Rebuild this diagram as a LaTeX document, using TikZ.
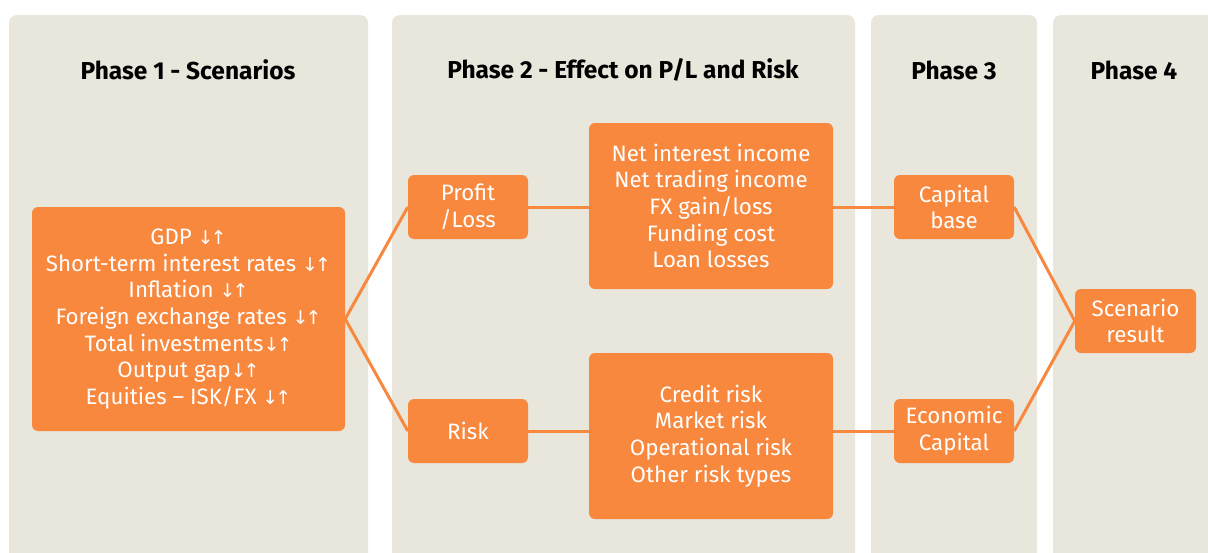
\documentclass[tikz,border=0pt]{standalone}
\usepackage{fontspec}
\setmainfont{Fira Sans}
\newfontfamily\arrfont{DejaVu Sans}
\newcommand\updn{{\arrfont\fontsize{19}{20}\selectfont ↓\kern-3pt↑}}
\definecolor{boxorange}{HTML}{F8883E}
\definecolor{panelbg}{HTML}{E9E6DC}
\begin{document}
\begin{tikzpicture}[x=1pt,y=-1pt,
  panel/.style={fill=panelbg, rounded corners=8pt},
  head/.style={font=\fontsize{24.5}{28}\selectfont\bfseries, text=black, anchor=center},
  obox/.style={fill=boxorange, rounded corners=6pt, text=white, align=center, inner sep=0pt,
    font=\fontsize{22.3}{26.7}\selectfont, execute at begin node={\vspace*{5pt}}},
  link/.style={draw=boxorange, line width=3pt}]
\useasboundingbox (0,0) rectangle (1208,552);
\clip (0,0) rectangle (1208,552);
\fill[white] (0,0) rectangle (1208,552);
% panels
\path[panel] (9,15) rectangle (368,580);
\path[panel] (392,15) rectangle (855,580);
\path[panel] (871,15) rectangle (1037,580);
\path[panel] (1053,15) rectangle (1230,580);
% headers
\node[head] (h1) at (188,70) {Phase 1 - Scenarios};
\node[head] (h2) at (623,70) {Phase 2 - Effect on P/L and Risk};
\node[head] (h3) at (954,70) {Phase 3};
\node[head] (h4) at (1134,70) {Phase 4};
% boxes
\node[obox, minimum width=313pt, minimum height=224pt] (scen) at (188.5,319)
  {GDP \updn\\ Short-term interest rates \updn\\ Inflation \updn\\ Foreign exchange rates \updn\\ Total investments\updn\\ Output gap\updn\\ Equities -- ISK/FX \updn};
\node[obox, minimum width=120pt, minimum height=64pt] (pl) at (468,207) {Profit\\/Loss};
\node[obox, minimum width=120pt, minimum height=64pt] (risk) at (468,431) {Risk};
\node[obox, minimum width=244pt, minimum height=166pt] (pnl) at (711,206)
  {Net interest income\\ Net trading income\\ FX gain/loss\\ Funding cost\\ Loan losses};
\node[obox, minimum width=244pt, minimum height=166pt] (rt) at (711,436)
  {Credit risk\\ Market risk\\ Operational risk\\ Other risk types};
\node[obox, minimum width=120pt, minimum height=64pt] (cb) at (954,207) {Capital\\ base};
\node[obox, minimum width=120pt, minimum height=64pt] (ec) at (954,431) {Economic\\ Capital};
\node[obox, minimum width=121pt, minimum height=64pt] (sr) at (1135.5,321) {Scenario\\ result};
% connectors
\draw[link] (scen.east) -- (pl.west);
\draw[link] (scen.east) -- (risk.west);
\draw[link] (pl.east) -- (pnl.west |- pl.east);
\draw[link] (risk.east) -- (rt.west |- risk.east);
\draw[link] (pnl.east |- cb.west) -- (cb.west);
\draw[link] (rt.east |- ec.west) -- (ec.west);
\draw[link] (cb.east) -- (sr.west);
\draw[link] (ec.east) -- (sr.west);
\end{tikzpicture}
\end{document}
